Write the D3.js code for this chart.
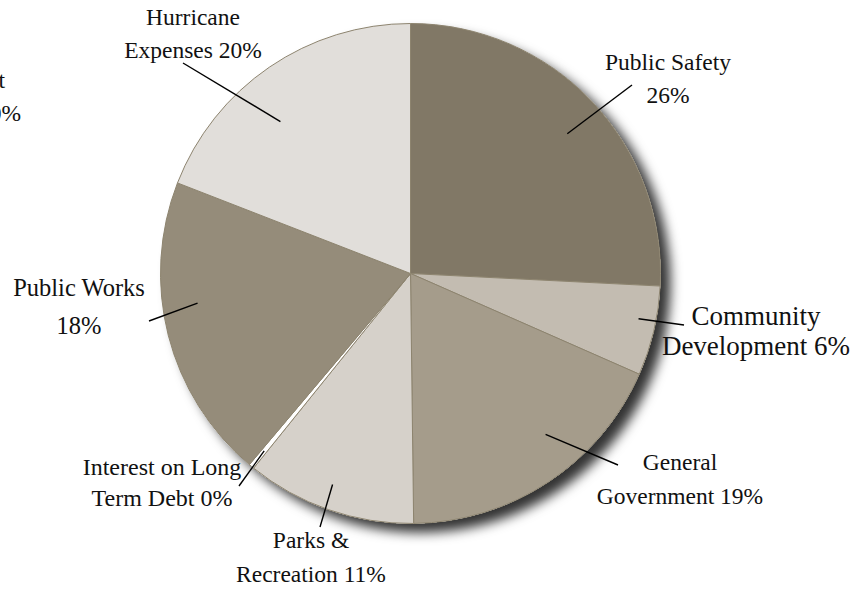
<!DOCTYPE html>
<html>
<head>
<meta charset="utf-8">
<script src="https://cdn.jsdelivr.net/npm/d3@7"></script>
<style>
  html, body { margin: 0; padding: 0; background: #fff; }
  #chart { width: 856px; height: 590px; overflow: hidden; }
  #chart text { font-family: "Liberation Serif", "DejaVu Serif", serif; font-size: 23.5px; fill: #111; }
</style>
</head>
<body>
<div id="chart"></div>
<script>
(function () {
  "use strict";

  // slices, clockwise from 12 o'clock
  var categories = ["Public Safety", "Community Development", "General Government", "Parks & Recreation",
    "Interest on Long Term Debt", "Public Works", "Hurricane Expenses"];
  var shares = [25.8, 5.8, 18.2, 11.0, 0.35, 19.75, 19.1];
  var labelLines = [
    ["Public Safety", "26%"],
    ["Community", "Development 6%"],
    ["General", "Government 19%"],
    ["Parks &", "Recreation 11%"],
    ["Interest on Long", "Term Debt 0%"],
    ["Public Works", "18%"],
    ["Hurricane", "Expenses 20%"]
  ];
  var colors = ["#817866", "#c3bcb1", "#a59c8b", "#d6d1ca", "#ffffff", "#958c7a", "#e1deda"];

  // label layout: text centre x, first baseline, line gap, font size,
  // leader outer end, leader inner point (fraction across slice, fraction of radius)
  var labelPos = [
    { x: 668, y: 70, gap: 33, fs: 23.5, lx: 632, ly: 85, af: 0.52, rf: 0.84 },
    { x: 756, y: 325, gap: 30, fs: 27, lx: 684, ly: 325, af: 0.40, rf: 0.93 },
    { x: 680, y: 470, gap: 34, fs: 23.5, lx: 618, ly: 465, af: 0.40, rf: 0.84 },
    { x: 311, y: 548, gap: 34, fs: 23.5, lx: 320, ly: 527, af: 0.53, rf: 0.90 },
    { x: 162, y: 475, gap: 31, fs: 24, lx: 239, ly: 486, af: 0.5, rf: 0.92 },
    { x: 79, y: 296, gap: 38, fs: 24.5, lx: 149, ly: 321, af: 0.59, rf: 0.86 },
    { x: 193, y: 25, gap: 33, fs: 23.5, lx: 183, ly: 63, af: 0.41, rf: 0.80 }
  ];

  var W = 856, H = 590;
  var cx = 410.5, cy = 273.5, R = 250;

  var svg = d3.select("#chart").append("svg")
    .attr("width", W).attr("height", H)
    .attr("viewBox", [0, 0, W, H]);

  var defs = svg.append("defs");
  var f = defs.append("filter").attr("id", "shadow")
    .attr("x", "-10%").attr("y", "-10%").attr("width", "130%").attr("height", "130%");
  f.append("feDropShadow").attr("dx", 10).attr("dy", 9).attr("stdDeviation", 6)
    .attr("flood-color", "#000").attr("flood-opacity", 0.8);

  var pie = d3.pie().sort(null).value(function (d) { return d; });
  var arcs = pie(shares);
  var arc = d3.arc().innerRadius(0).outerRadius(R);

  var g = svg.append("g").attr("transform", "translate(" + cx + "," + cy + ")");

  // shadow disc under the pie
  g.append("circle").attr("r", R).attr("fill", "#fff").attr("filter", "url(#shadow)");

  g.selectAll("path.slice")
    .data(arcs)
    .join("path")
    .attr("class", "slice")
    .attr("d", arc)
    .attr("fill", function (d, i) { return colors[i]; })
    .attr("stroke", "#8d846f")
    .attr("stroke-width", 1);

  function innerPoint(d, i) {
    var p = labelPos[i];
    var a = d.startAngle + (d.endAngle - d.startAngle) * p.af;
    return [cx + Math.sin(a) * R * p.rf, cy - Math.cos(a) * R * p.rf];
  }

  // leader lines
  svg.append("g").selectAll("line")
    .data(arcs)
    .join("line")
    .attr("x1", function (d, i) { return innerPoint(d, i)[0]; })
    .attr("y1", function (d, i) { return innerPoint(d, i)[1]; })
    .attr("x2", function (d, i) { return labelPos[i].lx; })
    .attr("y2", function (d, i) { return labelPos[i].ly; })
    .attr("stroke", "#000")
    .attr("stroke-width", 1.4);

  // labels
  var lab = svg.append("g").selectAll("text")
    .data(categories)
    .join("text")
    .attr("text-anchor", "middle")
    .style("font-size", function (d, i) { return labelPos[i].fs + "px"; })
    .attr("aria-label", function (d) { return d; });
  lab.each(function (d, i) {
    var t = d3.select(this);
    labelLines[i].forEach(function (line, k) {
      t.append("tspan")
        .attr("x", labelPos[i].x)
        .attr("y", labelPos[i].y + k * labelPos[i].gap)
        .text(line);
    });
  });

  // label cut off at the left edge of the picture
  var stray = svg.append("text").attr("text-anchor", "end");
  stray.append("tspan").attr("x", 5).attr("y", 88).text("Transfers Out");
  stray.append("tspan").attr("x", 21).attr("y", 121).text("Other Funds 0%");
})();
</script>
</body>
</html>
